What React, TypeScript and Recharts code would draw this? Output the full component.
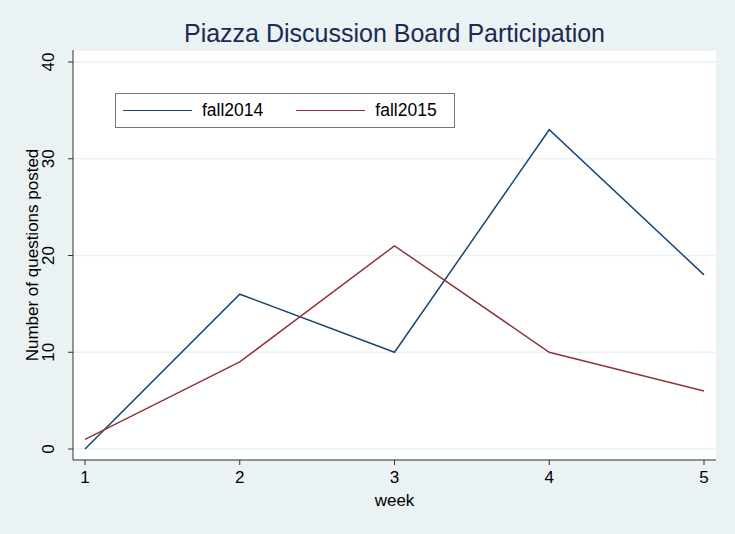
import React from 'react';
import { LineChart, Line, XAxis, YAxis, CartesianGrid, Legend } from 'recharts';

const weeks = [1, 2, 3, 4, 5];
const fall2014 = [0, 16, 10, 33, 18];
const fall2015 = [1, 9, 21, 10, 6];
const yTicks = [0, 10, 20, 30, 40];
const seriesNames = ['fall2014', 'fall2015'];
const seriesColors = ['#1a476f', '#90353b'];

const data = weeks.map((w, i) => ({ week: w, fall2014: fall2014[i], fall2015: fall2015[i] }));

const font = '"Liberation Sans", Arial, Helvetica, sans-serif';

const YTick = (props: any) => {
  const { x, y, payload } = props;
  const cx = x - 18;
  return (
    <text
      x={cx}
      y={y}
      transform={`rotate(-90 ${cx} ${y})`}
      textAnchor="middle"
      dominantBaseline="central"
      fontSize={17}
      fontFamily={font}
      fill="#000"
    >
      {payload.value}
    </text>
  );
};

const LegendBox = () => (
  <div
    style={{
      width: 338,
      height: 33,
      border: '1px solid #777',
      background: '#fff',
      display: 'flex',
      alignItems: 'center',
      fontFamily: font,
      fontSize: 17.5,
      color: '#000',
      boxSizing: 'content-box',
    }}
  >
    {seriesNames.map((name, i) => (
      <div key={name} style={{ display: 'flex', alignItems: 'center', marginLeft: i === 0 ? 7 : 33 }}>
        <div style={{ width: 69, height: 0, borderTop: `1.5px solid ${seriesColors[i]}` }} />
        <span style={{ marginLeft: 10 }}>{name}</span>
      </div>
    ))}
  </div>
);

export default function App() {
  return (
    <div style={{ position: 'absolute', left: 0, top: 0, width: 735, height: 534, background: '#eaf2f3' }}>
      <div
        style={{
          position: 'absolute',
          left: 73,
          width: 643,
          top: 19,
          textAlign: 'center',
          fontFamily: font,
          fontSize: 25,
          color: '#1c2b4f',
        }}
      >
        Piazza Discussion Board Participation
      </div>
      <LineChart width={735} height={534} data={data} margin={{ top: 50, right: 19, left: 0, bottom: 0 }}>
        <CartesianGrid horizontal vertical={false} fill="#fff" stroke="#eaf2f3" strokeWidth={1.5} />
        <XAxis
          dataKey="week"
          type="number"
          domain={[1, 5]}
          ticks={weeks}
          padding={{ left: 12, right: 12 }}
          height={74}
          stroke="#333"
          tickSize={5}
          tickMargin={6}
          tick={{ fontSize: 17, fontFamily: font, fill: '#000' }}
          label={{ value: 'week', position: 'center', dy: 3, fontSize: 17, fontFamily: font, fill: '#000' }}
        />
        <YAxis
          type="number"
          domain={[0, 40]}
          ticks={yTicks}
          padding={{ top: 12, bottom: 11 }}
          width={73}
          stroke="#333"
          tickSize={5}
          tickMargin={2}
          tick={<YTick />}
          label={{
            value: 'Number of questions posted',
            angle: -90,
            position: 'center',
            dx: -5,
            fontSize: 17,
            fontFamily: font,
            fill: '#000',
          }}
        />
        <Legend
          layout="horizontal"
          verticalAlign="middle"
          content={<LegendBox />}
          wrapperStyle={{ left: 115, top: 93, width: 'auto' }}
        />
        {seriesNames.map((name, i) => (
          <Line
            key={name}
            type="linear"
            dataKey={name}
            stroke={seriesColors[i]}
            strokeWidth={1.5}
            dot={false}
            activeDot={false}
            isAnimationActive={false}
          />
        ))}
      </LineChart>
    </div>
  );
}
